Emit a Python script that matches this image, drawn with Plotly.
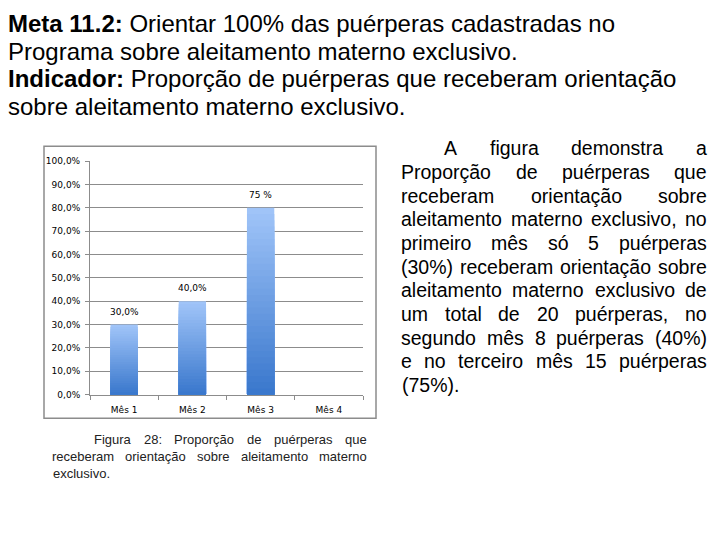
import plotly.graph_objects as go

# ---------------- data ----------------
categories = ["Mês 1", "Mês 2", "Mês 3", "Mês 4"]
values = [30.0, 40.0, 80.0, None]
bar_labels = ["30,0%", "40,0%", "75 %", ""]
y_tickvals = [0, 10, 20, 30, 40, 50, 60, 70, 80, 90, 100]
y_ticktext = ["0,0%", "10,0%", "20,0%", "30,0%", "40,0%", "50,0%",
              "60,0%", "70,0%", "80,0%", "90,0%", "100,0%"]

title_lines = [
    "<b>Meta 11.2:</b> Orientar 100% das puérperas cadastradas no",
    "Programa sobre aleitamento materno exclusivo.",
    "<b>Indicador:</b> Proporção de puérperas que receberam orientação",
    "sobre aleitamento materno exclusivo.",
]
right_lines = [
    "A figura demonstra a",
    "Proporção de puérperas que",
    "receberam orientação sobre",
    "aleitamento materno exclusivo, no",
    "primeiro mês só 5 puérperas",
    "(30%) receberam orientação sobre",
    "aleitamento materno exclusivo de",
    "um total de 20 puérperas, no",
    "segundo mês 8 puérperas (40%)",
    "e no terceiro mês 15 puérperas",
    "(75%).",
]
caption_lines = [
    "Figura 28: Proporção de puérperas que",
    "receberam orientação sobre aleitamento materno",
    "exclusivo.",
]

W, H = 720, 540

# Arial / Liberation Sans advance widths (1/1000 em)
AW = {' ': 278, '%': 889, '(': 333, ')': 333, ',': 278, '.': 278, ':': 278,
      'A': 667, 'B': 667, 'C': 722, 'D': 722, 'E': 667, 'F': 611, 'G': 778, 'H': 722,
      'I': 278, 'J': 500, 'K': 667, 'L': 556, 'M': 833, 'N': 722, 'O': 778, 'P': 667,
      'Q': 778, 'R': 722, 'S': 667, 'T': 611, 'U': 722, 'V': 667, 'W': 944,
      'a': 556, 'b': 556, 'c': 500, 'd': 556, 'e': 556, 'f': 278, 'g': 556, 'h': 556,
      'i': 222, 'j': 222, 'k': 500, 'l': 222, 'm': 833, 'n': 556, 'o': 556, 'p': 556,
      'q': 556, 'r': 333, 's': 500, 't': 278, 'u': 556, 'v': 500, 'w': 722, 'x': 500,
      'y': 500, 'z': 500, 'ç': 500, 'ã': 556, 'á': 556, 'é': 556, 'ê': 556, 'ó': 556,
      'õ': 556, 'ú': 556, 'í': 278}


def text_w(s, size):
    return sum(AW.get(ch, 556) for ch in s) * size / 1000.0


def px(x):
    return x / W


def py(y):
    return 1 - y / H


annotations = []
shapes = []


def add_justified(lines, x0, x1, first_indent, yc0, dy, size, color, last_left=True):
    for i, line in enumerate(lines):
        yc = yc0 + i * dy
        left = x0 + (first_indent if i == 0 else 0)
        words = line.split(" ")
        if (i == len(lines) - 1 and last_left) or len(words) == 1:
            annotations.append(dict(x=px(left), y=py(yc), xref="paper", yref="paper",
                                    text=line, showarrow=False, xanchor="left", yanchor="middle",
                                    font=dict(family="Liberation Sans, Arial", size=size, color=color)))
            continue
        total = sum(text_w(w_, size) for w_ in words)
        gap = (x1 - left - total) / (len(words) - 1)
        cx = left
        for w_ in words:
            annotations.append(dict(x=px(cx), y=py(yc), xref="paper", yref="paper",
                                    text=w_, showarrow=False, xanchor="left", yanchor="middle",
                                    xshift=-1,
                                    font=dict(family="Liberation Sans, Arial", size=size, color=color)))
            cx += text_w(w_, size) + gap


# title lines
for i, t in enumerate(title_lines):
    annotations.append(dict(x=px(6), y=py(19 + i * 28), xref="paper", yref="paper",
                            text=t, showarrow=False, xanchor="left", yanchor="middle",
                            font=dict(family="Liberation Sans, Arial", size=24, color="#000000")))

# right paragraph (justified)
add_justified(right_lines, 400, 706, 43, 146, 24.1, 19.5, "#000000")
# caption (justified)
add_justified(caption_lines, 51, 366, 42, 443, 17, 13, "#222222")

# chart border
shapes.append(dict(type="rect", xref="paper", yref="paper",
                   x0=px(44), x1=px(376), y0=py(421), y1=py(144),
                   line=dict(color="#8c8c8c", width=1.5), fillcolor="rgba(0,0,0,0)"))

# gradient bars: overlay of shrinking bars, light on top -> dark at bottom
N = 30
light = (160, 196, 248)
dark = (58, 120, 205)
fig = go.Figure()
for k in range(N):
    f = 1 - k / N
    t = k / (N - 1)
    col = tuple(int(round(light[j] + (dark[j] - light[j]) * t)) for j in range(3))
    ys = [None if v is None else v * f for v in values]
    fig.add_trace(go.Bar(x=categories, y=ys, marker=dict(color="rgb(%d,%d,%d)" % col, line=dict(width=0)),
                         width=0.4, showlegend=False, hoverinfo="skip"))

# value labels
for c, v, lab in zip(categories, values, bar_labels):
    if v is None or not lab:
        continue
    annotations.append(dict(x=c, y=v, xref="x", yref="y", text=lab, showarrow=False,
                            yanchor="bottom", yshift=6,
                            font=dict(family="DejaVu Sans", size=9, color="#000000")))

fig.update_layout(
    width=W, height=H,
    margin=dict(l=0, r=0, t=0, b=0),
    paper_bgcolor="white", plot_bgcolor="white",
    barmode="overlay",
    bargap=0.6,
    xaxis=dict(domain=[px(90), px(363)], showgrid=False, showline=True, linecolor="#8c8c8c",
               linewidth=1, ticks="outside", tickson="boundaries", ticklen=4, tickcolor="#8c8c8c",
               ticklabelstandoff=7,
               tickfont=dict(family="DejaVu Sans", size=9, color="#000000"), fixedrange=True),
    yaxis=dict(domain=[py(397), py(159)], range=[0, 100], tickvals=y_tickvals, ticktext=y_ticktext,
               showgrid=True, gridcolor="#8c8c8c", gridwidth=1, showline=True, linecolor="#8c8c8c",
               linewidth=1, ticks="outside", ticklen=4, tickcolor="#8c8c8c", zeroline=False,
               ticklabelstandoff=3,
               tickfont=dict(family="DejaVu Sans", size=9, color="#000000"), fixedrange=True),
    annotations=annotations,
    shapes=shapes,
)

fig.write_html("out.html")
